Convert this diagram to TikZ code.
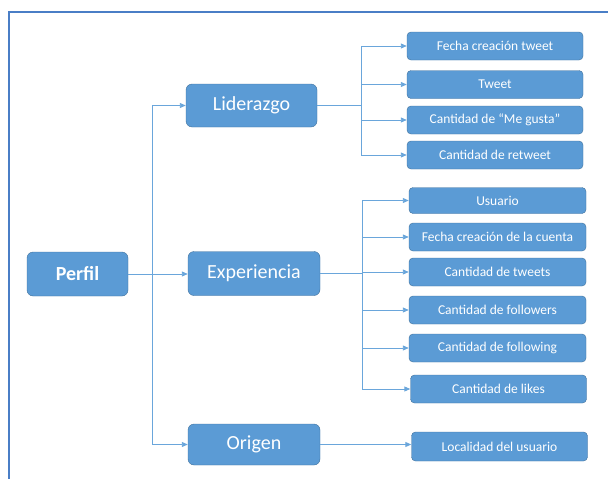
\documentclass[tikz,border=0pt]{standalone}
\usepackage{fontspec}
\setmainfont{Carlito}
\usepackage{tikz}
\usetikzlibrary{arrows.meta}
\definecolor{boxblue}{HTML}{5B9BD5}
\definecolor{boxedge}{HTML}{41719C}
\definecolor{linkblue}{HTML}{6AA6DB}
\definecolor{framblue}{HTML}{4A7EC6}

\begin{document}
\begin{tikzpicture}[x=1pt,y=-1pt,>={Triangle[length=6pt,width=5pt]},
  main/.style={draw=boxedge,fill=boxblue,rounded corners=6pt,text=white,font=\fontsize{20}{22}\selectfont,minimum width=131pt,minimum height=43pt,inner sep=0pt},
  leaf/.style={draw=boxedge,fill=boxblue,rounded corners=4pt,text=white,font=\fontsize{13.5}{14}\selectfont,minimum width=176pt,minimum height=28pt,inner sep=0pt},
  link/.style={draw=linkblue,line width=0.9pt}]
  \useasboundingbox(0,0)rectangle(608,479);
  \draw[framblue,line width=1.4pt](608,12)--(9,12)--(9,479);
  % niveles principales
  \node[main,minimum width=101pt,minimum height=44pt,font=\fontsize{20}{22}\selectfont\bfseries](perfil)at(77.5,274){Perfil};
  \node[main](lid)at(251.5,105.5){Liderazgo};
  \node[main,minimum width=132pt,minimum height=44pt](exp)at(254,273.5){Experiencia};
  \node[main,minimum width=132pt,minimum height=41pt](ori)at(254,444.5){Origen};
  % hojas
  \node[leaf](l1)at(495,46){Fecha creación tweet};\node[leaf](l2)at(495,84.5){Tweet};
  \node[leaf](l3)at(495,120){Cantidad de “Me gusta”};\node[leaf](l4)at(495,155){Cantidad de retweet};
  \node[leaf,minimum width=177pt,minimum height=26pt](e1)at(497.5,200.5){Usuario};
  \node[leaf,minimum width=177pt](e2)at(497.5,237){Fecha creación de la cuenta};
  \node[leaf,minimum width=177pt](e3)at(497.5,272){Cantidad de tweets};
  \node[leaf,minimum width=177pt](e4)at(497.5,310){Cantidad de followers};
  \node[leaf,minimum width=177pt](e5)at(497.5,348){Cantidad de following};
  \node[leaf,minimum width=176pt](e6)at(498.5,389){Cantidad de likes};
  \node[leaf,minimum width=176pt,minimum height=29pt](loc)at(499.5,446.5){Localidad del usuario};
  % conectores
  \draw[link,->](perfil.east)--(perfil.east-|exp.west);
  \draw[link,->](perfil.east)--++(24,0)|-(lid);\draw[link,->](perfil.east)--++(24,0)|-(ori);
  \foreach \n in {l1,l2,l3,l4}\draw[link,->](lid.east)--++(44,0)|-(\n.west);
  \foreach \n in {e1,e2,e3,e4,e5,e6}\draw[link,->](exp.east)--++(42,0)|-(\n.west);
  \draw[link,->](ori.east)--(ori.east-|loc.west);
\end{tikzpicture}
\end{document}
